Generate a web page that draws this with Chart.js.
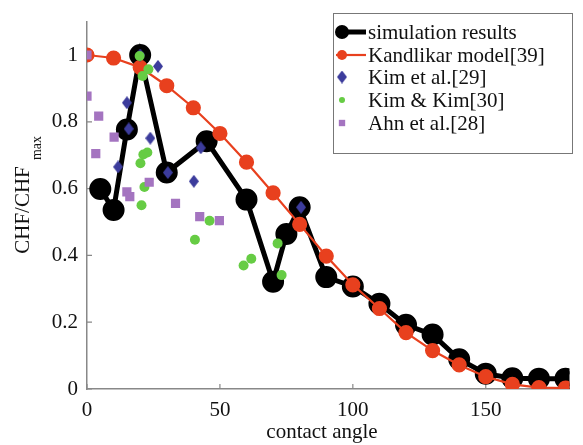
<!DOCTYPE html>
<html>
<head>
<meta charset="utf-8">
<script src="https://cdn.jsdelivr.net/npm/chart.js@4/dist/chart.umd.min.js"></script>
<style>
  html, body { margin: 0; padding: 0; background: #fff; }
</style>
</head>
<body>
<canvas id="chf" width="583" height="445"></canvas>
<script>
// simulation results
const simAngle = [5, 10, 15, 20, 30, 45, 60, 70, 75, 80, 90, 100, 110, 120, 130, 140, 150, 160, 170, 180];
const simChf = [0.599, 0.536, 0.777, 1.0, 0.648, 0.742, 0.567, 0.321, 0.464, 0.544, 0.335, 0.307, 0.255, 0.192, 0.163, 0.089, 0.046, 0.032, 0.031, 0.031];

// Kandlikar model[39]
const kanAngle = [0, 10, 20, 30, 40, 50, 60, 70, 80, 90, 100, 110, 120, 130, 140, 150, 160, 170, 180];
const kanChf = [1.0, 0.991, 0.963, 0.908, 0.842, 0.765, 0.679, 0.587, 0.493, 0.398, 0.312, 0.241, 0.169, 0.115, 0.072, 0.037, 0.014, 0.004, 0.003];

// Kim et al.[29]
const kimAngle = [20, 26.7, 15.0, 15.7, 23.8, 11.7, 30.4, 42.8, 40.2, 80.5];
const kimChf = [1.0, 0.966, 0.857, 0.779, 0.751, 0.665, 0.648, 0.722, 0.622, 0.544];

// Kim & Kim[30]
const kkAngle = [19.8, 23.1, 20.9, 21.2, 22.7, 20.1, 21.6, 20.5, 40.6, 46.1, 58.9, 61.8, 71.7, 73.2];
const kkChf = [0.997, 0.957, 0.937, 0.702, 0.708, 0.676, 0.605, 0.550, 0.447, 0.504, 0.370, 0.390, 0.436, 0.341];

// Ahn et al.[28]
const ahnAngle = [0, 0, 4.4, 10.2, 3.3, 23.4, 15.0, 16.1, 33.3, 42.4, 49.8];
const ahnChf = [1.0, 0.877, 0.817, 0.754, 0.705, 0.619, 0.590, 0.576, 0.556, 0.516, 0.504];

const xTicks = [0, 50, 100, 150];
const yTicks = [0, 0.2, 0.4, 0.6, 0.8, 1];

const FONT = '"Liberation Serif", serif';
const RED = '#e8401e', BLUE = '#3c3c9c', GREEN = '#66cc44', PURPLE = '#a474c0';

const pts = (xs, ys) => xs.map((x, i) => ({ x, y: ys[i] }));

function diamond(w, h, color) {
    const c = document.createElement('canvas');
    c.width = w; c.height = h;
    const g = c.getContext('2d');
    g.fillStyle = color;
    g.beginPath();
    g.moveTo(w / 2, 0); g.lineTo(w, h / 2); g.lineTo(w / 2, h); g.lineTo(0, h / 2);
    g.closePath();
    g.fill();
    return c;
}
const kimMarker = diamond(10, 13, BLUE);

// matlab style ticks pointing into the plot
const inTicks = {
    id: 'inTicks',
    beforeDatasetsDraw(chart) {
        const { ctx, chartArea: a, scales: { x, y } } = chart;
        ctx.save();
        ctx.strokeStyle = '#888';
        ctx.lineWidth = 1.2;
        ctx.beginPath();
        xTicks.forEach(v => {
            const px = x.getPixelForValue(v);
            ctx.moveTo(px, a.bottom); ctx.lineTo(px, a.bottom - 5);
        });
        yTicks.forEach(v => {
            const py = y.getPixelForValue(v);
            ctx.moveTo(a.left, py); ctx.lineTo(a.left + 5, py);
        });
        ctx.stroke();
        ctx.restore();
    }
};

// axis titles (y one has a subscript) and the legend box
const extras = {
    id: 'extras',
    afterDraw(chart) {
        const ctx = chart.ctx;
        ctx.save();
        ctx.fillStyle = '#111';
        ctx.textAlign = 'center';
        ctx.textBaseline = 'middle';
        ctx.font = '21px ' + FONT;
        ctx.fillText('contact angle', 322, 432);

        ctx.save();
        ctx.translate(23, 210);
        ctx.rotate(-Math.PI / 2);
        ctx.fillText('CHF/CHF', 0, 0);
        ctx.font = '14px ' + FONT;
        ctx.fillText('max', 62, 14);
        ctx.restore();

        // legend
        ctx.fillStyle = '#fff';
        ctx.fillRect(333, 13, 239, 140);
        ctx.strokeStyle = '#777';
        ctx.lineWidth = 1;
        ctx.strokeRect(333.5, 13.5, 239, 140);

        const rows = [32, 55, 77, 100, 123];
        const mx = 342;
        chart.data.datasets.forEach((ds, i) => {
            const yy = rows[i];
            if (ds.showLine) {
                ctx.strokeStyle = ds.borderColor;
                ctx.lineWidth = ds.borderWidth;
                ctx.beginPath();
                ctx.moveTo(336, yy); ctx.lineTo(366, yy);
                ctx.stroke();
            }
            ctx.fillStyle = ds.pointBackgroundColor;
            ctx.strokeStyle = ds.pointBackgroundColor;
            Chart.helpers.drawPoint(ctx, {
                pointStyle: ds.pointStyle,
                radius: i < 2 ? ds.pointRadius - 1.5 : ds.pointRadius - 2,
                borderWidth: 0
            }, mx, yy);
            ctx.fillStyle = '#111';
            ctx.textAlign = 'left';
            ctx.font = '21px ' + FONT;
            ctx.fillText(ds.label, 368, yy + 1);
        });
        ctx.restore();
    }
};

function draw() {
    new Chart(document.getElementById('chf'), {
        type: 'scatter',
        data: {
            datasets: [
                {
                    label: 'simulation results',
                    data: pts(simAngle, simChf),
                    showLine: true,
                    borderColor: '#000',
                    borderWidth: 5,
                    pointStyle: 'circle',
                    pointRadius: 8.5,
                    pointBackgroundColor: '#000',
                    pointBorderColor: '#000',
                    order: 5
                },
                {
                    label: 'Kandlikar model[39]',
                    data: pts(kanAngle, kanChf),
                    showLine: true,
                    borderColor: RED,
                    borderWidth: 2.2,
                    pointStyle: 'circle',
                    pointRadius: 6.5,
                    pointBackgroundColor: RED,
                    pointBorderColor: RED,
                    order: 4
                },
                {
                    label: 'Kim et al.[29]',
                    data: pts(kimAngle, kimChf),
                    pointStyle: kimMarker,
                    pointRadius: 6,
                    pointBackgroundColor: BLUE,
                    pointBorderColor: BLUE,
                    order: 3
                },
                {
                    label: 'Kim & Kim[30]',
                    data: pts(kkAngle, kkChf),
                    pointStyle: 'circle',
                    pointRadius: 5,
                    pointBorderWidth: 0,
                    pointBackgroundColor: GREEN,
                    pointBorderColor: GREEN,
                    order: 2
                },
                {
                    label: 'Ahn et al.[28]',
                    data: pts(ahnAngle, ahnChf),
                    pointStyle: 'rect',
                    pointRadius: 6.5,
                    pointBorderWidth: 0,
                    pointBackgroundColor: PURPLE,
                    pointBorderColor: PURPLE,
                    order: 1
                }
            ]
        },
        options: {
            responsive: false,
            animation: false,
            layout: { padding: { top: 5, right: 0, left: 0, bottom: 0 } },
            plugins: { legend: { display: false }, tooltip: { enabled: false } },
            scales: {
                x: {
                    type: 'linear',
                    min: 0,
                    max: 181.5,
                    afterFit: s => { s.height = 56; },
                    afterBuildTicks: s => { s.ticks = xTicks.map(v => ({ value: v })); },
                    grid: { display: true, drawOnChartArea: false, drawTicks: false },
                    border: { display: true, color: '#888', width: 1.5 },
                    ticks: { padding: 9, color: '#111', font: { family: FONT, size: 21 } }
                },
                y: {
                    type: 'linear',
                    min: 0,
                    max: 1.1,
                    afterFit: s => { s.width = 87; },
                    afterBuildTicks: s => { s.ticks = yTicks.map(v => ({ value: v })); },
                    grid: { display: true, drawOnChartArea: false, drawTicks: false },
                    border: { display: true, color: '#888', width: 1.5 },
                    ticks: {
                        padding: 9,
                        color: '#111',
                        font: { family: FONT, size: 21 },
                        callback: v => String(+v.toFixed(1))
                    }
                }
            }
        },
        plugins: [inTicks, extras]
    });
}

// wait for the serif face so the first paint does not fall back to sans
Promise.all([
    document.fonts.load('21px "Liberation Serif"'),
    document.fonts.load('14px "Liberation Serif"')
]).then(draw, draw);
</script>
</body>
</html>
